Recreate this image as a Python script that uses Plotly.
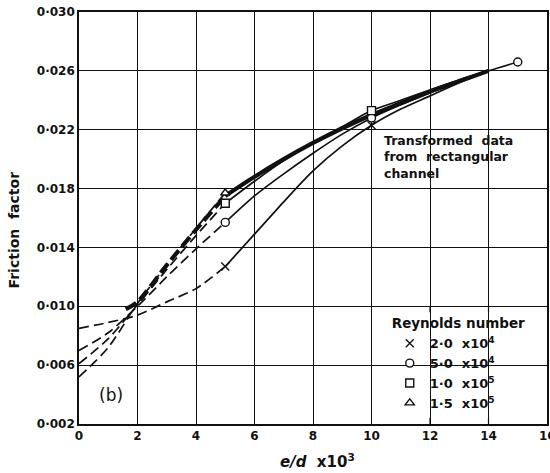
import plotly.graph_objects as go

# ---------------- data ----------------
ed_dash = [0, 1, 2, 3, 4, 5]
f_x_dash = [0.0085, 0.0089, 0.0094, 0.0103, 0.0112, 0.0127]
f_o_dash = [0.0070, 0.0082, 0.0100, 0.0120, 0.0139, 0.0157]
f_s_dash = [0.0061, 0.0078, 0.0101, 0.0125, 0.0148, 0.0170]
f_t_dash = [0.0052, 0.0072, 0.0102, 0.0128, 0.0153, 0.0177]

ed_solid14 = [5, 6, 7, 8, 9, 10, 11, 12, 13, 14]
ed_solid15 = [5, 6, 7, 8, 9, 10, 11, 12, 13, 14, 15]
f_x_solid = [0.0127, 0.0149, 0.0171, 0.0192, 0.0209, 0.0223, 0.0234, 0.0243, 0.0252, 0.0260]
f_o_solid = [0.0157, 0.0175, 0.0190, 0.0204, 0.0217, 0.0228, 0.0237, 0.0245, 0.0253, 0.0260, 0.0266]
f_s_solid = [0.0170, 0.0185, 0.0199, 0.0211, 0.0222, 0.0233, 0.0240, 0.0247, 0.0254, 0.0260]

ed_thick_dash = [1.6, 2, 3, 4, 5]
f_thick_dash = [0.0098, 0.0103, 0.0128, 0.0152, 0.0175]
f_thick_solid = [0.0175, 0.0188, 0.0200, 0.0211, 0.0221, 0.0230, 0.0238, 0.0246, 0.0253, 0.0260]

pts_x_ed, pts_x_f = [5, 10], [0.0127, 0.0223]
pts_o_ed, pts_o_f = [5, 10, 15], [0.0157, 0.0228, 0.0266]
pts_s_ed, pts_s_f = [5, 10], [0.0170, 0.0233]
pts_t_ed, pts_t_f = [5], [0.0177]

NB = "\u00a0"
legend_names = [f"2·0{NB}{NB}x10<sup>4</sup>", f"5·0{NB}{NB}x10<sup>4</sup>",
                f"1·0{NB}{NB}x10<sup>5</sup>", f"1·5{NB}{NB}x10<sup>5</sup>"]

x_ticks = [0, 2, 4, 6, 8, 10, 12, 14]
x_last_tick = 16
y_ticks = [0.002, 0.006, 0.010, 0.014, 0.018, 0.022, 0.026, 0.030]
y_tick_text = ["0·002", "0·006", "0·010", "0·014", "0·018", "0·022", "0·026", "0·030"]

FONT = "DejaVu Sans"
BLACK = "#111111"

fig = go.Figure()

def line(x, y, dash, width=1.7):
    fig.add_trace(go.Scatter(x=x, y=y, mode="lines", showlegend=False,
                             line=dict(color=BLACK, width=width, dash=dash,
                                       shape="spline", smoothing=0.8),
                             hoverinfo="skip"))

for f in (f_x_dash, f_o_dash, f_s_dash, f_t_dash):
    line(ed_dash, f, "10px,5px")
line(ed_solid14, f_x_solid, "solid")
line(ed_solid15, f_o_solid, "solid")
line(ed_solid14, f_s_solid, "solid")
line(ed_thick_dash, f_thick_dash, "12px,5px", width=4.2)
line(ed_solid14, f_thick_solid, "solid", width=4.2)

sym = ["x-thin", "circle", "square", "triangle-up"]
pts = [(pts_x_ed, pts_x_f), (pts_o_ed, pts_o_f), (pts_s_ed, pts_s_f), (pts_t_ed, pts_t_f)]
for (xe, yf), s, name in zip(pts, sym, legend_names):
    fig.add_trace(go.Scatter(
        x=xe, y=yf, mode="markers", name=name,
        marker=dict(symbol=s, size=8, color=BLACK if s == "x-thin" else "white",
                    line=dict(color=BLACK, width=1.4)),
    ))

shapes = [
    dict(type="rect", xref="x", yref="y", x0=10.05, x1=15.95, y0=0.00205, y1=0.00995,
         fillcolor="white", line=dict(width=0), layer="below"),
    dict(type="rect", xref="x", yref="y", x0=10.3, x1=15.6, y0=0.01757, y1=0.02195,
         fillcolor="white", line=dict(width=0), layer="below"),
]
for xv in (12, 14):
    shapes.append(dict(type="line", xref="x", yref="y", x0=xv, x1=xv, y0=0.0100, y1=0.0096,
                       line=dict(color=BLACK, width=1.2)))
    shapes.append(dict(type="line", xref="x", yref="y", x0=xv, x1=xv, y0=0.0020, y1=0.0024,
                       line=dict(color=BLACK, width=1.2)))

annotations = [
    dict(x=10.35, y=0.0219, xref="x", yref="y", xanchor="left", yanchor="top",
         text=f"Transformed{NB}{NB}data<br>from{NB}{NB}rectangular<br>channel", showarrow=False,
         align="left", font=dict(family=FONT, size=12.5, color=BLACK, weight="bold")),
    dict(x=1.09, y=0.0040, xref="x", yref="y", text="(b)", showarrow=False,
         font=dict(family=FONT, size=17, color=BLACK)),
    dict(x=-0.16, y=0.47, xref="paper", yref="paper", text=f"Friction{NB}{NB}factor", textangle=-90,
         showarrow=False, font=dict(family=FONT, size=14, color=BLACK, weight="bold")),
    dict(x=0.51, y=-0.09, xref="paper", yref="paper", yanchor="middle",
         text=f"<i>e/d</i>{NB}{NB}x10<sup>3</sup>", showarrow=False,
         font=dict(family=FONT, size=15, color=BLACK, weight="bold")),
    # last x tick label, partly cut by the right page edge as in the reference
    dict(x=x_last_tick, y=0, xref="x", yref="paper", yanchor="top", yshift=-3,
         text=str(x_last_tick), showarrow=False,
         font=dict(family=FONT, size=12, color=BLACK, weight="bold")),
]

axis_common = dict(showgrid=True, gridcolor=BLACK, gridwidth=1.1, showline=True,
                   linecolor=BLACK, linewidth=1.6, mirror=True, ticks="",
                   zeroline=False, automargin=False,
                   tickfont=dict(family=FONT, size=12, color=BLACK, weight="bold"))

fig.update_layout(
    width=550, height=473, margin=dict(l=79, r=3, t=12, b=49),
    paper_bgcolor="white", plot_bgcolor="white",
    xaxis=dict(range=[0, 16], tickvals=x_ticks + [x_last_tick],
               ticktext=[str(v) for v in x_ticks] + [""], **axis_common),
    yaxis=dict(range=[0.002, 0.030], tickvals=y_ticks, ticktext=y_tick_text, **axis_common),
    shapes=shapes, annotations=annotations,
    legend=dict(x=0.664, y=0.275, xanchor="left", yanchor="top", bgcolor="rgba(0,0,0,0)",
                borderwidth=0, tracegroupgap=0,
                title=dict(text="Reynolds number",
                           font=dict(family=FONT, size=13.5, color=BLACK, weight="bold")),
                font=dict(family=FONT, size=13, color=BLACK, weight="bold")),
    showlegend=True,
)

fig.write_html("out.html")
